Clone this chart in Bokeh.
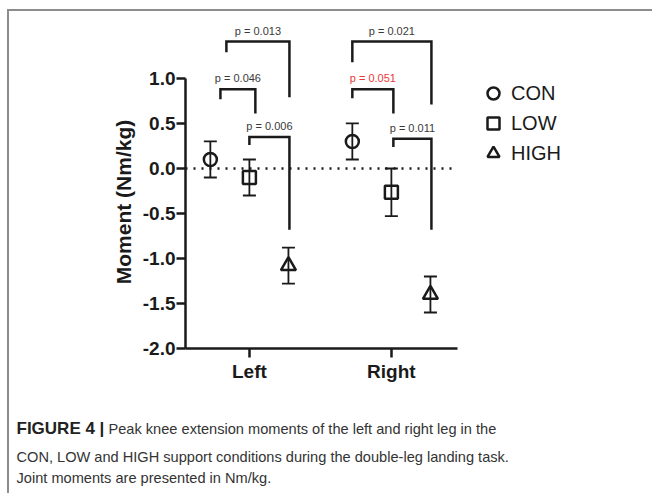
from bokeh.plotting import figure
from bokeh.models import (ColumnDataSource, Whisker, TeeHead, Label, Legend, LegendItem,
                          FixedTicker, NumeralTickFormatter)
from bokeh.layouts import column
from bokeh.embed import file_html
from bokeh.resources import INLINE
from bokeh.core.properties import value

# ---- data ----
sides = ["Left", "Right"]
side_pos = [1, 2]
conditions = ["CON", "LOW", "HIGH"]
cond_offset = [-0.275, 0.0, 0.275]
con_mean = [0.10, 0.30]
con_sd = [0.20, 0.20]
low_mean = [-0.10, -0.265]
low_sd = [0.20, 0.265]
high_mean = [-1.08, -1.40]
high_sd = [0.20, 0.20]
y_ticks = [-2.0, -1.5, -1.0, -0.5, 0.0, 0.5, 1.0]

# significance brackets
br_left_x = [0.796, 0.838, 1.000, 1.725, 1.725, 2.014]
br_right_x = [1.042, 1.282, 1.282, 2.014, 2.282, 2.282]
br_top = [0.88, 1.41, 0.35, 0.88, 1.41, 0.33]
br_left_bottom = [0.77, 1.29, 0.26, 0.78, 1.18, 0.24]
br_right_bottom = [0.61, 0.79, -0.68, 0.61, 0.71, -0.68]
br_text = ["p = 0.046", "p = 0.013", "p = 0.006", "p = 0.051", "p = 0.021", "p = 0.011"]
br_color = ["#3a3a3a", "#3a3a3a", "#3a3a3a", "#e8393a", "#3a3a3a", "#3a3a3a"]

caption_bold = "FIGURE 4 |"
caption_lines = ["Peak knee extension moments of the left and right leg in the",
                 "CON, LOW and HIGH support conditions during the double-leg landing task.",
                 "Joint moments are presented in Nm/kg."]

FONT = "Liberation Sans"
INK = "#1a1a1a"
X_AXIS = (0.55, 2.465)

p = figure(width=643, height=382, output_backend="svg", toolbar_location=None,
           x_range=(X_AXIS[0], 3.839), y_range=(-2.0, 1.644),
           min_border_left=176, min_border_right=0, min_border_top=9, min_border_bottom=45)
p.frame_align = False
p.outline_line_color = None
p.grid.visible = False
p.background_fill_color = "white"
p.border_fill_color = "white"

for ax in (p.xaxis[0], p.yaxis[0]):
    ax.axis_line_width = 2.5
    ax.axis_line_color = INK
    ax.major_tick_line_width = 2.5
    ax.major_tick_line_color = INK
    ax.major_tick_in = 0
    ax.major_tick_out = 9
    ax.minor_tick_line_color = None
    ax.major_label_text_font = FONT
    ax.major_label_text_font_style = "bold"
    ax.major_label_text_font_size = "19px"
    ax.major_label_text_color = INK

p.yaxis.ticker = FixedTicker(ticks=y_ticks)
p.yaxis.formatter = NumeralTickFormatter(format="0.0")
p.yaxis.bounds = (-2.0, 1.0)
p.yaxis.major_label_standoff = 1
# trailing no-break spaces shift the centred label down to sit beside the axis line
p.yaxis.axis_label = "Moment (Nm/kg)" + "\u00a0" * 6
p.yaxis.axis_label_text_font = FONT
p.yaxis.axis_label_text_font_style = "bold"
p.yaxis.axis_label_text_font_size = "21px"
p.yaxis.axis_label_text_color = INK
p.yaxis.axis_label_standoff = 5

p.xaxis.ticker = FixedTicker(ticks=side_pos)
p.xaxis.major_label_overrides = {sp: s for sp, s in zip(side_pos, sides)}
p.xaxis.major_label_standoff = 3
p.xaxis.bounds = X_AXIS

# zero reference line, spanning the x axis
p.segment(x0=[X_AXIS[0]], x1=[X_AXIS[1]], y0=[0], y1=[0], line_color=INK, line_width=2.5,
          line_dash="2 6")

means = [con_mean, low_mean, high_mean]
sds = [con_sd, low_sd, high_sd]
markers = ["circle", "square", "triangle"]
sizes = [13, 13, 15]
items = []
for cond, off, m, sd, mk, sz in zip(conditions, cond_offset, means, sds, markers, sizes):
    xs = [sp + off for sp in side_pos]
    src = ColumnDataSource(dict(x=xs, y=m,
                                lo=[a - b for a, b in zip(m, sd)],
                                hi=[a + b for a, b in zip(m, sd)]))
    w = Whisker(source=src, base="x", lower="lo", upper="hi", dimension="height",
                line_width=1.8, line_color=INK,
                upper_head=TeeHead(size=13, line_width=1.8, line_color=INK),
                lower_head=TeeHead(size=13, line_width=1.8, line_color=INK))
    p.add_layout(w)
    r = p.scatter("x", "y", source=src, marker=mk, size=sz, fill_color=None,
                  line_color=INK, line_width=2.5)
    items.append(LegendItem(label=cond, renderers=[r]))

legend = Legend(items=items, location=(293, 180), glyph_width=30, glyph_height=30,
                label_standoff=3, spacing=0, padding=0, margin=0,
                border_line_color=None, background_fill_alpha=0,
                label_text_font=FONT, label_text_font_size="20px", label_text_color=INK,
                label_height=30)
p.add_layout(legend)

# brackets
bxs = [[l, l, r_, r_] for l, r_ in zip(br_left_x, br_right_x)]
bys = [[lb, t, t, rb] for lb, t, rb in zip(br_left_bottom, br_top, br_right_bottom)]
p.multi_line(bxs, bys, line_color=INK, line_width=2.5, line_join="miter")
tsrc = ColumnDataSource(dict(x=[(l + r_) / 2 for l, r_ in zip(br_left_x, br_right_x)],
                             y=br_top, t=br_text, c=br_color))
p.text("x", "y", text="t", source=tsrc, text_color="c", text_font=value(FONT),
       text_font_size="11px", text_align="center", text_baseline="bottom", y_offset=-5)

# caption figure
cap = figure(width=643, height=100, output_backend="svg", toolbar_location=None,
             x_axis_location=None, y_axis_location=None, x_range=(0, 1), y_range=(0, 1),
             min_border_left=0, min_border_right=0, min_border_top=0, min_border_bottom=0)
cap.frame_align = False
cap.outline_line_color = None
cap.grid.visible = False
cap_y = [65, 37, 16]
cap.add_layout(Label(x=7, y=cap_y[0], x_units="screen", y_units="screen", text=caption_bold,
                     text_font=FONT, text_font_style="bold", text_font_size="17px",
                     text_color="#222222", text_baseline="alphabetic"))
cap.add_layout(Label(x=99, y=cap_y[0], x_units="screen", y_units="screen", text=caption_lines[0],
                     text_font=FONT, text_font_size="14.6px", text_color="#333333",
                     text_baseline="alphabetic"))
for yy, line in zip(cap_y[1:], caption_lines[1:]):
    cap.add_layout(Label(x=7, y=yy, x_units="screen", y_units="screen", text=line,
                         text_font=FONT, text_font_size="14.6px", text_color="#333333",
                         text_baseline="alphabetic"))

layout = column(p, cap, spacing=0,
                styles={"border-top": "2px solid #8c8c8c", "border-left": "2px solid #8c8c8c",
                        "margin-top": "9px", "margin-left": "7px"})

open("out.html", "w").write(file_html(layout, INLINE))
